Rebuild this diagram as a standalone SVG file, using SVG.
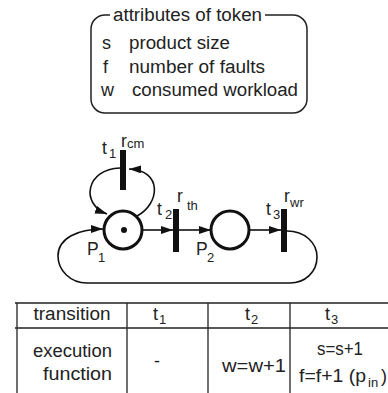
<svg xmlns="http://www.w3.org/2000/svg" width="388" height="393" viewBox="0 0 388 393">
  <style>
    text { font-family: "Liberation Sans", Arial, sans-serif; fill: #222; }
    .t18 { font-size: 18px; }
    .t16 { font-size: 17.5px; }
    .sub { font-size: 13px; }
    .line { fill: none; stroke: #222; stroke-width: 1.5; }
    .arc { fill: none; stroke: #111; stroke-width: 1.6; }
    .place { fill: #fff; stroke: #111; stroke-width: 3; }
    .bar { fill: #111; }
    .grid { stroke: #222; stroke-width: 1.3; fill: none; }
  </style>
  <defs>
    <marker id="arrow" markerUnits="userSpaceOnUse" markerWidth="13" markerHeight="9" refX="12" refY="4" orient="auto">
      <path d="M0,0 L12,4 L0,8 z" fill="#111"/>
    </marker>
  </defs>

  <!-- legend box of token attributes -->
  <g id="legend">
    <path class="line" d="M110,15 H105 A14,14 0 0 0 91,29 V99 A14,14 0 0 0 105,113 H293 A14,14 0 0 0 307,99 V29 A14,14 0 0 0 293,15 H265"/>
    <text class="t18" x="113" y="21" textLength="149" lengthAdjust="spacingAndGlyphs">attributes of token</text>
    <text class="t18" x="102" y="49">s</text>
    <text class="t18" x="129" y="49" textLength="101" lengthAdjust="spacingAndGlyphs">product size</text>
    <text class="t18" x="103" y="73">f</text>
    <text class="t18" x="129" y="73" textLength="136" lengthAdjust="spacingAndGlyphs">number of faults</text>
    <text class="t18" x="101" y="96">w</text>
    <text class="t18" x="132" y="96" textLength="166" lengthAdjust="spacingAndGlyphs">consumed workload</text>
  </g>

  <!-- arcs of the net -->
  <g id="connectors">
    <path class="arc" d="M137,216 C160,204 163,170 129,169" marker-end="url(#arrow)"/>
    <path class="arc" d="M120,168 C86,169 80,204 107,214" marker-end="url(#arrow)"/>
    <path class="arc" d="M143,230 H173" marker-end="url(#arrow)"/>
    <path class="arc" d="M179,230 H211" marker-end="url(#arrow)"/>
    <path class="arc" d="M250,230 H281" marker-end="url(#arrow)"/>
    <path class="arc" d="M287,231 C305,231 317,243 317,257 C317,272 305,283 290,283 H87 C70,283 58,270 58,256 C58,238 78,229 103,229" marker-end="url(#arrow)"/>
  </g>

  <!-- places -->
  <g id="P1">
    <circle class="place" cx="123" cy="230" r="19"/>
    <circle cx="124" cy="230" r="3" fill="#111"/>
    <text class="t16" x="87" y="255">P</text>
    <text class="sub" x="98" y="262">1</text>
  </g>
  <g id="P2">
    <circle class="place" cx="230" cy="230" r="19"/>
    <text class="t16" x="196" y="255">P</text>
    <text class="sub" x="207" y="262">2</text>
  </g>

  <!-- transitions -->
  <g id="t1">
    <rect class="bar" x="120" y="150" width="6" height="40"/>
    <text class="t16" x="102" y="154">t</text>
    <text class="sub" x="109" y="158">1</text>
    <text class="t16" x="121" y="147">r</text>
    <text class="sub" x="127" y="148">cm</text>
  </g>
  <g id="t2">
    <rect class="bar" x="173" y="209" width="6" height="43"/>
    <text class="t16" x="157" y="215">t</text>
    <text class="sub" x="165" y="219">2</text>
    <text class="t16" x="177" y="202">r</text>
    <text class="sub" x="187" y="210">th</text>
  </g>
  <g id="t3">
    <rect class="bar" x="281" y="209" width="6" height="43"/>
    <text class="t16" x="266" y="215">t</text>
    <text class="sub" x="273" y="219">3</text>
    <text class="t16" x="284" y="202">r</text>
    <text class="sub" x="290" y="207">wr</text>
  </g>

  <!-- execution function table -->
  <g id="table">
    <path class="grid" d="M15,303 H388 M15,328 H388 M17,303 V393 M127,303 V393 M208,303 V393 M290,303 V393"/>
    <text class="t18" x="72" y="320" text-anchor="middle" textLength="77" lengthAdjust="spacingAndGlyphs">transition</text>
    <text class="t18" x="153" y="320">t</text>
    <text class="sub" x="159" y="324">1</text>
    <text class="t18" x="245" y="320">t</text>
    <text class="sub" x="251" y="324">2</text>
    <text class="t18" x="325" y="320">t</text>
    <text class="sub" x="331" y="324">3</text>
    <text class="t18" x="112" y="357" text-anchor="end" textLength="79" lengthAdjust="spacingAndGlyphs">execution</text>
    <text class="t18" x="112" y="380" text-anchor="end" textLength="69" lengthAdjust="spacingAndGlyphs">function</text>
    <text class="t18" x="157" y="367" text-anchor="middle">-</text>
    <text class="t18" x="222" y="372" textLength="64" lengthAdjust="spacingAndGlyphs">w=w+1</text>
    <text class="t18" x="317" y="355" textLength="46" lengthAdjust="spacingAndGlyphs">s=s+1</text>
    <text class="t18" x="299" y="382" textLength="67" lengthAdjust="spacingAndGlyphs">f=f+1 (p</text>
    <text class="sub" x="368" y="387">in</text>
    <text class="t18" x="381" y="382">)</text>
  </g>
</svg>
